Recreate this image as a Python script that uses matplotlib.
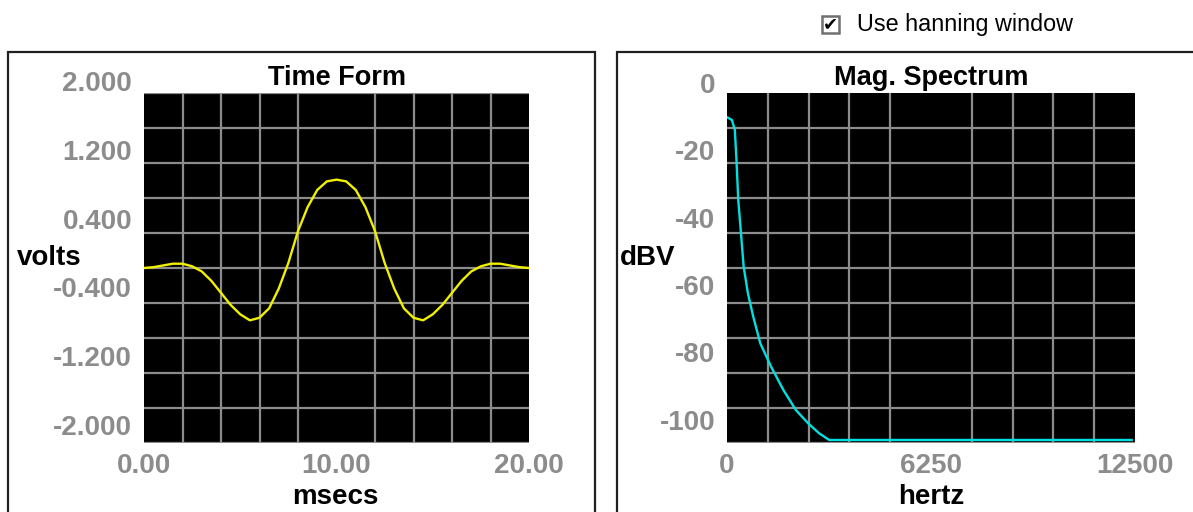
import matplotlib
matplotlib.use("Agg")
import matplotlib.pyplot as plt
import numpy as np
from matplotlib.patches import Rectangle
from matplotlib.transforms import ScaledTranslation

# Time form data (msecs -> volts)
t_ms = [0, 0.5, 1.0, 1.5, 2.0, 2.5, 3.0, 3.5, 4.0, 4.5, 5.0, 5.5, 6.0, 6.5, 7.0, 7.5,
        8.0, 8.5, 9.0, 9.5, 10.0, 10.5, 11.0, 11.5, 12.0, 12.5, 13.0, 13.5, 14.0,
        14.5, 15.0, 15.5, 16.0, 16.5, 17.0, 17.5, 18.0, 18.5, 19.0, 19.5, 20.0]
volts = [0.00, 0.01, 0.03, 0.05, 0.05, 0.02, -0.04, -0.15, -0.29, -0.43, -0.54, -0.61,
         -0.58, -0.47, -0.24, 0.06, 0.43, 0.71, 0.91, 1.01, 1.03, 1.01, 0.91, 0.71,
         0.43, 0.06, -0.24, -0.47, -0.58, -0.61, -0.54, -0.43, -0.29, -0.15, -0.04,
         0.02, 0.05, 0.05, 0.03, 0.01, 0.00]

# Magnitude spectrum (hertz -> dBV)
hz = [0, 150, 240, 290, 345, 420, 510, 640, 805, 1020, 1350, 1730, 2110, 2490, 2820, 3130, 12400]
dbv = [-7.2, -8.0, -11.0, -19.9, -31.8, -40.7, -51.6, -59.5, -66.5, -74.4, -81.3,
       -88.3, -94.2, -98.2, -101.1, -103.1, -103.1]

volt_ticks = [2.0, 1.2, 0.4, -0.4, -1.2, -2.0]
volt_labels = ["2.000", "1.200", "0.400", "-0.400", "-1.200", "-2.000"]
ms_ticks = [0, 10, 20]
ms_labels = ["0.00", "10.00", "20.00"]
db_ticks = [0, -20, -40, -60, -80, -100]
db_labels = ["0", "-20", "-40", "-60", "-80", "-100"]
hz_ticks = [0, 6250, 12500]
hz_labels = ["0", "6250", "12500"]

W, H = 1193, 512
fig = plt.figure(figsize=(W / 100, H / 100), dpi=100)
fig.patch.set_facecolor("white")

fam = ["Liberation Sans", "DejaVu Sans"]
tick_font = dict(family=fam, weight="bold", size=20, color="#8c8c8c")
label_font = dict(family=fam, weight="bold", size=20, color="black")


def px_axes(x0, x1, y0, y1):
    return fig.add_axes([x0 / W, 1 - y1 / H, (x1 - x0) / W, (y1 - y0) / H])


def setup(ax, xlim, ylim, xt, xl, yt, yl, shift_px, title):
    ax.set_facecolor("black")
    ax.set_xlim(*xlim)
    ax.set_ylim(*ylim)
    ax.set_xticks(np.linspace(xlim[0], xlim[1], 11), minor=True)
    ax.set_yticks(np.linspace(ylim[0], ylim[1], 11), minor=True)
    ax.grid(which="minor", color="#8c8c8c", linewidth=1.6)
    ax.set_axisbelow(True)
    ax.set_xticks(xt)
    ax.set_xticklabels(xl, **tick_font)
    ax.set_yticks(yt)
    ax.set_yticklabels(yl, **tick_font)
    ax.tick_params(which="both", length=0)
    ax.tick_params(axis="y", pad=8.5)
    ax.tick_params(axis="x", pad=7)
    for s in ax.spines.values():
        s.set_visible(False)
    off = ScaledTranslation(0, shift_px / 100, fig.dpi_scale_trans)
    for tk in ax.yaxis.get_major_ticks():
        tk.label1.set_transform(tk.label1.get_transform() + off)
    ax.set_title(title, pad=6, fontsize=19.5, fontweight="bold", family=fam)


# panel frames
fig.add_artist(Rectangle((8 / W, -0.1), (595 - 8) / W, 0.1 + 1 - 52 / H, fill=False,
                         edgecolor="#202020", linewidth=1.6, transform=fig.transFigure))
fig.add_artist(Rectangle((617 / W, -0.1), 0.5, 0.1 + 1 - 52 / H, fill=False,
                         edgecolor="#202020", linewidth=1.6, transform=fig.transFigure))

# Time form
ax1 = px_axes(144, 529, 93, 443)
setup(ax1, (0, 20), (-2.04, 2.04), ms_ticks, ms_labels, volt_ticks, volt_labels, 15, "Time Form")
ax1.plot(t_ms, volts, color="#f0f000", linewidth=1.7)

# Magnitude spectrum
ax2 = px_axes(727, 1135, 93, 443)
setup(ax2, (0, 12500), (-104, 0), hz_ticks, hz_labels, db_ticks, db_labels, 10, "Mag. Spectrum")
ax2.plot(hz, dbv, color="#00e0e0", linewidth=1.7)

# axis names
fig.text(17 / W, 1 - 258 / H, "volts", ha="left", va="center", **label_font)
fig.text(620 / W, 1 - 258 / H, "dBV", ha="left", va="center", **label_font)
fig.text(335 / W, 1 - 497 / H, "msecs", ha="center", va="center", **label_font)
fig.text(931 / W, 1 - 497 / H, "hertz", ha="center", va="center", **label_font)

# checkbox
fig.add_artist(Rectangle((822 / W, 1 - 33 / H), 17 / W, 17 / H, facecolor="white",
                         edgecolor="#707070", linewidth=1.8, transform=fig.transFigure))
fig.text(830.5 / W, 1 - 24.5 / H, "\u2714", ha="center", va="center", fontsize=13,
         family="DejaVu Sans", color="black")
fig.text(857 / W, 1 - 24 / H, "Use hanning window", ha="left", va="center", fontsize=16.8,
         family=fam, color="black")

fig.savefig("out.png", dpi=100, facecolor="white")
